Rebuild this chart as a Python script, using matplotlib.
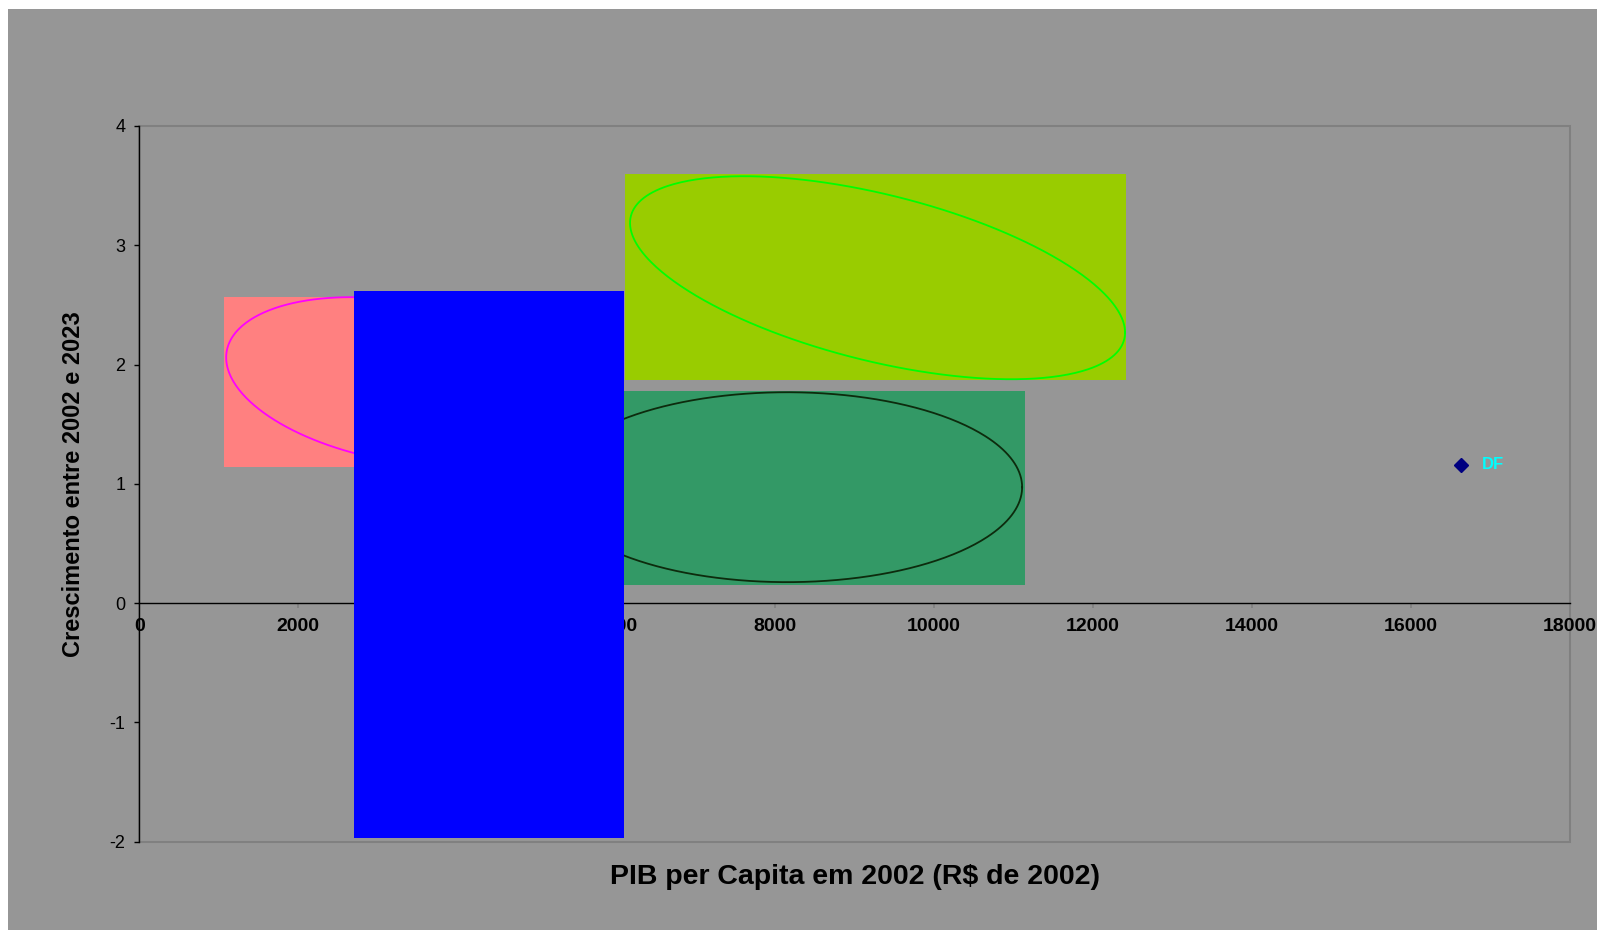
import numpy as np
import matplotlib
matplotlib.use('Agg')
import matplotlib.pyplot as plt
from matplotlib.patches import Rectangle

plt.rcParams['font.family'] = ['Liberation Sans', 'DejaVu Sans']

# scatter point
uf_x = [16625]
uf_y = [1.16]
uf_labels = ['DF']

# highlight boxes drawn over the plot (axis units): pink, lime, sea green, blue
box_x0 = [1070, 6110, 5150, 2700]
box_x1 = [5520, 12410, 11140, 6100]
box_y0 = [1.14, 1.87, 0.15, -1.97]
box_y1 = [2.57, 3.60, 1.78, 2.62]

# ellipse outlines: centre, half extents, tilt
ell_cx = [3293, 9288, 8150]
ell_cy = [1.857, 2.728, 0.972]
ell_hx = [2200, 3114, 2957]
ell_hy = [0.708, 0.851, 0.796]
ell_tilt = [-0.29, -0.57, 0.0]

x_ticks = list(range(0, 18001, 2000))
y_ticks = [-2, -1, 0, 1, 2, 3, 4]

BG = '#969696'
BORDER = '#808080'
BOX_COLORS = ['#FF8080', '#99CC00', '#339966', '#0000FF']
ELL_COLORS = ['#FF00FF', '#00FF00', '#0D2B0D']

fig = plt.figure(figsize=(15.97, 9.30), dpi=100)
fig.patch.set_facecolor('white')
fig.patches.append(Rectangle((8 / 1597, 0), 1, 1 - 9 / 930, transform=fig.transFigure,
                             facecolor=BG, edgecolor='none', zorder=-10))

ax = fig.add_axes([139.3 / 1597, 1 - 841.7 / 930, 1430.7 / 1597, 715.7 / 930])
ax.set_facecolor(BG)
ax.set_xlim(0, 18000)
ax.set_ylim(-2, 4)

# plot-area frame
ax.add_patch(Rectangle((0, 0), 1, 1, transform=ax.transAxes, fill=False,
                       edgecolor=BORDER, lw=1.5, zorder=1, clip_on=False))
for side in ['top', 'right']:
    ax.spines[side].set_visible(False)
ax.spines['left'].set_color('black')
ax.spines['left'].set_linewidth(1.0)
ax.spines['bottom'].set_position(('data', 0))
ax.spines['bottom'].set_color('black')
ax.spines['bottom'].set_linewidth(1.0)

ax.set_xticks(x_ticks)
ax.set_yticks(y_ticks)
ax.set_xticklabels([str(v) for v in x_ticks], fontsize=14, fontweight='bold')
ax.set_yticklabels([str(v) for v in y_ticks], fontsize=13)
ax.tick_params(axis='x', direction='out', length=3.5, width=1.2, color=BORDER, pad=7.5)
ax.tick_params(axis='y', direction='out', length=3.6, width=1.0, color='black', pad=6.5)

ax.set_xlabel('PIB per Capita em 2002 (R\\$ de 2002)', fontsize=20.5, fontweight='bold', va='center')
ax.xaxis.set_label_coords(0.5, -0.0493)
ax.set_ylabel('Crescimento entre 2002 e 2023', fontsize=17, fontweight='bold', va='center')
ax.yaxis.set_label_coords(-0.0463, 0.5)

# scatter point and label
ax.plot(uf_x, uf_y, 'D', color='#000080', markersize=7.5, zorder=4)
for x, y, s in zip(uf_x, uf_y, uf_labels):
    ax.annotate(s, (x, y), xytext=(15, 0), textcoords='offset points', va='center',
                ha='left', color='#00FFFF', fontsize=12, fontweight='bold')

# boxes and ellipses, blue box last so it sits on top
t = np.linspace(0, 2 * np.pi, 400)
for i in range(3):
    ax.add_patch(Rectangle((box_x0[i], box_y0[i]), box_x1[i] - box_x0[i], box_y1[i] - box_y0[i],
                           facecolor=BOX_COLORS[i], edgecolor='none', zorder=5 + i))
    ex = ell_cx[i] + ell_hx[i] * np.cos(t)
    ey = ell_cy[i] + ell_hy[i] * np.sin(t + ell_tilt[i])
    ax.plot(ex, ey, color=ELL_COLORS[i], lw=1.3, zorder=5 + i + 0.5)
ax.add_patch(Rectangle((box_x0[3], box_y0[3]), box_x1[3] - box_x0[3], box_y1[3] - box_y0[3],
                       facecolor=BOX_COLORS[3], edgecolor='none', zorder=10))

fig.savefig('out.png', dpi=100, facecolor=fig.get_facecolor())
